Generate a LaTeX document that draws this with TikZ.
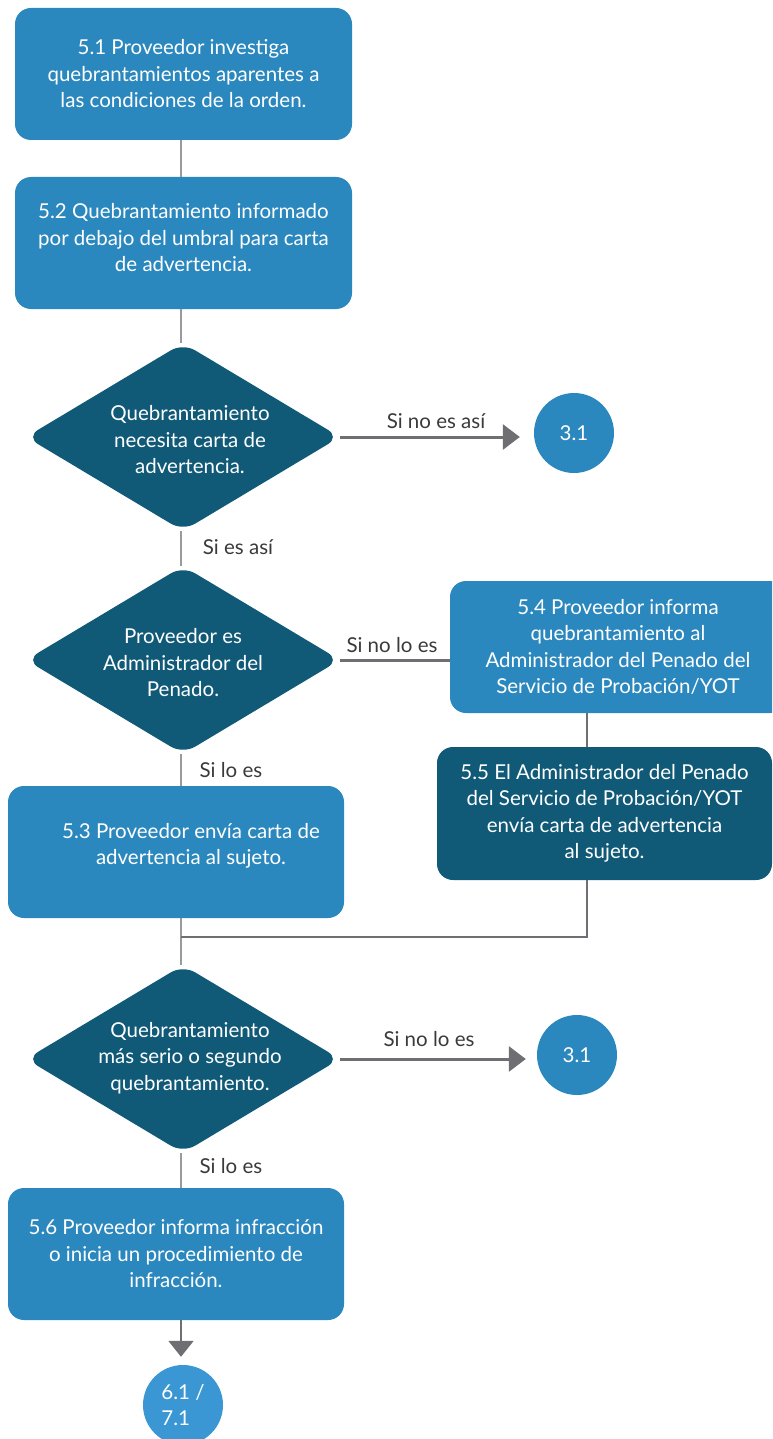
\documentclass[tikz,border=0pt]{standalone}
\usepackage{fontspec}
\setmainfont{Lato}
\usetikzlibrary{shapes.geometric,arrows.meta,calc}
\definecolor{boxblue}{HTML}{2B88BE}
\definecolor{darkteal}{HTML}{105A78}
\definecolor{linkblue}{HTML}{3A97D3}
\definecolor{spinegray}{HTML}{9A9A9A}
\definecolor{arrowgray}{HTML}{6E6E73}
\definecolor{labelgray}{HTML}{3A3A3A}
\tikzset{
  txt/.style={font=\fontsize{20.5}{26.5}\selectfont},
  stepbox/.style={txt, rectangle, rounded corners=16pt, fill=boxblue, text=white,
    minimum width=337pt, minimum height=132pt, inner sep=0pt, align=center},
  darkbox/.style={stepbox, fill=darkteal},
  decision/.style={diamond, fill=darkteal, rounded corners=14pt,
    minimum width=314pt, minimum height=188pt, inner sep=0pt},
  dtext/.style={txt, text=white, align=center},
  goto/.style={txt, circle, fill=boxblue, text=white, minimum size=80pt, inner sep=0pt},
  lbl/.style={txt, text=labelgray},
  spine/.style={draw=spinegray, line width=2pt},
  link/.style={draw=arrowgray, line width=2pt},
  yesno/.style={draw=arrowgray, line width=3pt},
  arrowline/.style={yesno, -{Triangle[length=17pt,width=25pt]}}
}
\begin{document}
\begin{tikzpicture}[x=1pt,y=-1pt]
\useasboundingbox (0,0) rectangle (772,1439);
\clip (0,0) rectangle (772,1439);

\coordinate (sp) at (181,0);
\coordinate (jx) at (587,0);
\coordinate (join) at (181,937);

% process steps
\node[stepbox] (b51) at (183.5,74) {5.1 Proveedor investiga\\quebrantamientos aparentes a\\las condiciones de la orden.};
\node[stepbox] (b52) at (183.5,243) {};
\node[dtext] (b52t) at (183.5,238) {5.2 Quebrantamiento informado\\por debajo del umbral para carta\\de advertencia.};

\node[decision] (d1) at (183,437) {};
\node[dtext] (d1t) at (190,440) {Quebrantamiento\\necesita carta de\\advertencia.};
\node[goto] (c1) at (574,433) {3.1};

\node[decision] (d2) at (183,660) {};
\node[dtext] (d2t) at (183,663) {Proveedor es\\Administrador del\\Penado.};

\node[stepbox, minimum width=336pt] (b54) at (618,647) {5.4 Proveedor informa\\quebrantamiento al\\Administrador del Penado del\\Servicio de Probación/YOT};
\node[darkbox, minimum width=335pt, minimum height=133pt] (b55) at (604.5,813.5) {5.5 El Administrador del Penado\\del Servicio de Probación/YOT\\envía carta de advertencia\\al sujeto.};

\node[stepbox, minimum width=336pt] (b53) at (176,852) {};
\node[dtext] (b53t) at (191,846) {5.3 Proveedor envía carta de\\advertencia al sujeto.};

\node[decision] (d3) at (183,1059) {};
\node[dtext] (d3t) at (190,1058) {Quebrantamiento\\más serio o segundo\\quebrantamiento.};
\node[goto] (c2) at (577,1055) {3.1};

\node[stepbox, minimum width=336pt] (b56) at (176,1254) {5.6 Proveedor informa infracción\\o inicia un procedimiento de\\infracción.};
\node[goto, fill=linkblue, align=left] (c3) at (183,1405) {6.1 /\\7.1};

% connectors
\draw[spine] (b51.south -| sp) -- (b52.north -| sp);
\draw[spine] (b52.south -| sp) -- (d1.north -| sp);
\draw[spine] (d1.south -| sp) -- (d2.north -| sp);
\draw[spine] (d2.south -| sp) -- (b53.north -| sp);
\draw[spine] (b53.south -| sp) -- (d3.north -| sp);
\draw[spine] (d3.south -| sp) -- (b56.north -| sp);
\draw[spine, -{Triangle[length=16pt,width=25pt]}, arrowgray] (b56.south -| sp) -- ($(c3.north -| sp)+(0,-8)$);

\draw[arrowline, shorten >=14pt] (d1.east) -- (d1.east -| c1.west);
\draw[yesno] (d2.east) -- (d2.east -| b54.west);
\draw[link] (b54.south -| jx) -- (b55.north -| jx);
\draw[link] (b55.south -| jx) -- (jx |- join) -- (join);
\draw[arrowline, shorten >=11pt] (d3.east) -- (d3.east -| c2.west);

% branch labels
\node[lbl] (l1) at (436,421) {Si no es así};
\node[lbl] (l2) at (238,547) {Si es así};
\node[lbl] (l3) at (392,645) {Si no lo es};
\node[lbl] (l4) at (231,770) {Si lo es};
\node[lbl] (l5) at (429,1039) {Si no lo es};
\node[lbl] (l6) at (231,1166) {Si lo es};
\end{tikzpicture}
\end{document}
